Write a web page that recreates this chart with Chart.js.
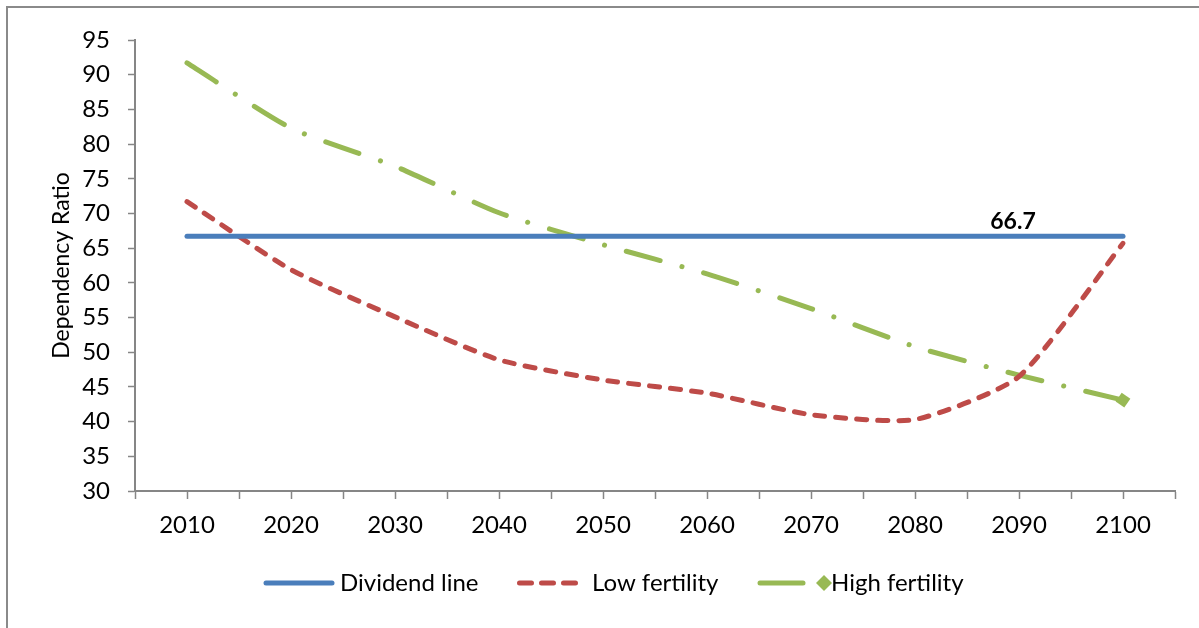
<!DOCTYPE html>
<html>
<head>
<meta charset="utf-8">
<script src="https://cdn.jsdelivr.net/npm/chart.js@4.4.1/dist/chart.umd.min.js"></script>
<style>
  html, body { margin: 0; padding: 0; background: #ffffff; }
  #wrap { width: 1199px; height: 628px; position: relative; }
</style>
</head>
<body>
<div id="wrap"><canvas id="c" width="1199" height="628"></canvas></div>
<script>
// Projection years and the values of each scenario
const years = [2010, 2020, 2030, 2040, 2050, 2060, 2070, 2080, 2090, 2100];
const yearLabels = ['2010', '2020', '2030', '2040', '2050', '2060', '2070', '2080', '2090', '2100'];
const dividendLine = [66.7, 66.7, 66.7, 66.7, 66.7, 66.7, 66.7, 66.7, 66.7, 66.7];
const lowFertility = [71.7, 61.9, 55.1, 48.9, 46.0, 44.1, 41.0, 40.3, 46.5, 65.7];
const highFertility = [91.7, 82.3, 76.8, 70.1, 65.5, 61.3, 56.3, 50.8, 46.7, 43.1];
const yTickValues = [30, 35, 40, 45, 50, 55, 60, 65, 70, 75, 80, 85, 90, 95];
const seriesNames = ['Dividend line', 'Low fertility', 'High fertility'];
const dividendValueText = '66.7';

const FONT = 'Lato, "Open Sans", sans-serif';
const BLUE = '#4A7EBB';
const RED = '#BE4B48';
const GREEN = '#98B954';
const AXIS = '#868686';

const toPoints = vals => vals.map((v, i) => ({ x: years[i], y: v }));

// Outer frame (top and left edges of the chart box)
const framePlugin = {
  id: 'frame',
  beforeDraw(chart) {
    const ctx = chart.ctx;
    ctx.save();
    ctx.fillStyle = '#ffffff';
    ctx.fillRect(0, 0, chart.width, chart.height);
    ctx.strokeStyle = '#8a8a8a';
    ctx.lineWidth = 2;
    ctx.beginPath();
    ctx.moveTo(7, chart.height + 2);
    ctx.lineTo(7, 7);
    ctx.lineTo(chart.width + 2, 7);
    ctx.stroke();
    ctx.restore();
  }
};

// Value tag above the dividend line
const valueTagPlugin = {
  id: 'valueTag',
  afterDatasetsDraw(chart) {
    const meta = chart.getDatasetMeta(0);
    const pt = meta.data[8];
    const ctx = chart.ctx;
    ctx.save();
    ctx.font = 'bold 23px ' + FONT;
    ctx.fillStyle = '#000000';
    ctx.textAlign = 'center';
    ctx.textBaseline = 'middle';
    ctx.fillText(dividendValueText, pt.x - 6, pt.y - 15);
    ctx.restore();
  }
};

// Legend row under the x axis
const legendPlugin = {
  id: 'legendRow',
  afterDraw(chart) {
    const ctx = chart.ctx;
    const y = 583;
    ctx.save();
    ctx.font = '24px ' + FONT;
    ctx.fillStyle = '#000000';
    ctx.textBaseline = 'middle';
    ctx.textAlign = 'left';
    ctx.lineCap = 'round';
    ctx.lineWidth = 5;

    // Dividend line
    ctx.strokeStyle = BLUE;
    ctx.setLineDash([]);
    ctx.beginPath(); ctx.moveTo(266, y); ctx.lineTo(332, y); ctx.stroke();
    ctx.fillText(seriesNames[0], 340, y);

    // Low fertility
    ctx.strokeStyle = RED;
    ctx.setLineDash([12, 10]);
    ctx.beginPath(); ctx.moveTo(519.5, y); ctx.lineTo(575.5, y); ctx.stroke();
    ctx.setLineDash([]);
    ctx.fillText(seriesNames[1], 592, y);

    // High fertility
    ctx.strokeStyle = GREEN;
    ctx.beginPath(); ctx.moveTo(760, y); ctx.lineTo(803, y); ctx.stroke();
    ctx.fillStyle = GREEN;
    ctx.beginPath();
    ctx.moveTo(824, y - 8); ctx.lineTo(832, y); ctx.lineTo(824, y + 8); ctx.lineTo(816, y);
    ctx.closePath(); ctx.fill();
    ctx.fillStyle = '#000000';
    ctx.fillText(seriesNames[2], 831, y);
    ctx.restore();
  }
};

new Chart(document.getElementById('c'), {
  type: 'line',
  data: {
    datasets: [
      {
        label: seriesNames[0],
        data: toPoints(dividendLine),
        borderColor: BLUE,
        borderWidth: 5,
        borderCapStyle: 'round',
        pointRadius: 0,
        tension: 0
      },
      {
        label: seriesNames[1],
        data: toPoints(lowFertility),
        borderColor: RED,
        borderWidth: 5,
        borderDash: [10, 11],
        borderCapStyle: 'round',
        pointRadius: 0,
        tension: 0.2
      },
      {
        label: seriesNames[2],
        data: toPoints(highFertility),
        borderColor: GREEN,
        backgroundColor: GREEN,
        borderWidth: 5,
        borderDash: [35, 22.5, 0.1, 22.5],
        borderCapStyle: 'round',
        tension: 0.2,
        pointStyle: 'rect',
        pointRotation: 35,
        pointRadius: highFertility.map((v, i) => i === highFertility.length - 1 ? 7.5 : 0),
        pointBorderWidth: 0,
        pointBackgroundColor: GREEN
      }
    ]
  },
  options: {
    responsive: false,
    animation: false,
    devicePixelRatio: 1,
    layout: { padding: { left: 48, top: 40, right: 24, bottom: 0 } },
    plugins: {
      legend: { display: false },
      tooltip: { enabled: false }
    },
    scales: {
      x: {
        type: 'linear',
        min: 2005,
        max: 2105,
        afterFit(scale) { scale.height = 137; },
        afterBuildTicks(scale) {
          const t = [];
          for (let v = 2005; v <= 2105; v += 5) t.push({ value: v });
          scale.ticks = t;
        },
        ticks: {
          autoSkip: false,
          maxRotation: 0,
          padding: 12,
          color: '#000000',
          font: { family: FONT, size: 24 },
          callback(value) {
            const idx = years.indexOf(value);
            return idx >= 0 ? yearLabels[idx] : '';
          }
        },
        grid: {
          drawOnChartArea: false,
          tickLength: 8,
          tickColor: AXIS,
          tickWidth: 1.5
        },
        border: { color: AXIS, width: 2 }
      },
      y: {
        min: 30,
        max: 95,
        afterFit(scale) { scale.width = 87; },
        afterBuildTicks(scale) {
          scale.ticks = yTickValues.map(v => ({ value: v }));
        },
        ticks: {
          padding: 18,
          color: '#000000',
          font: { family: FONT, size: 24 }
        },
        grid: {
          drawOnChartArea: false,
          tickLength: 7,
          tickColor: AXIS,
          tickWidth: 1.5
        },
        border: { color: AXIS, width: 2 },
        title: {
          display: true,
          text: 'Dependency Ratio',
          color: '#000000',
          font: { family: FONT, size: 23 },
          padding: { top: 0, bottom: 0 }
        }
      }
    }
  },
  plugins: [framePlugin, valueTagPlugin, legendPlugin]
});
</script>
</body>
</html>
